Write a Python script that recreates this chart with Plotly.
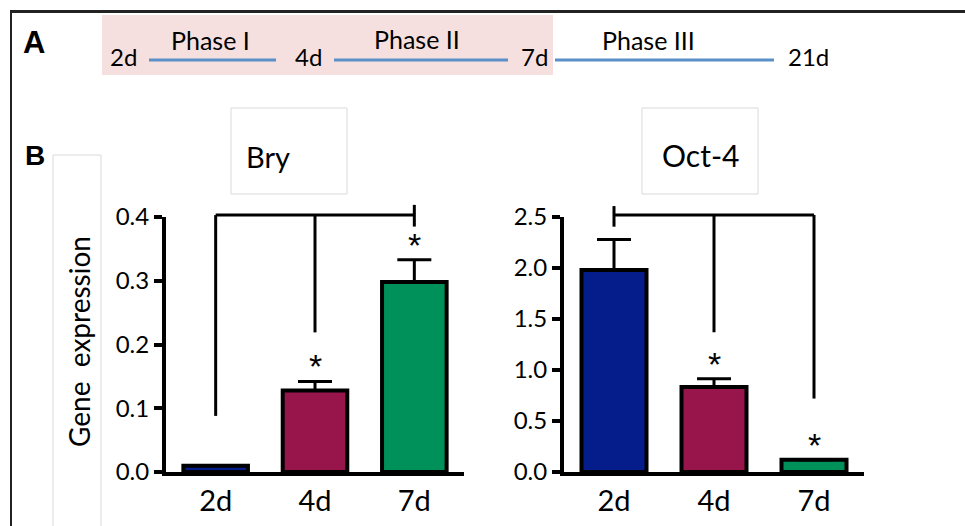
import plotly.graph_objects as go

# ---------------- data ----------------
days = ["2d", "4d", "7d"]
bry_values = [0.01, 0.128, 0.298]
bry_errors = [0.0, 0.014, 0.035]
oct_values = [1.98, 0.833, 0.12]
oct_errors = [0.30, 0.08, 0.0]
bar_colors = ["#041d8b", "#97154b", "#00905a"]

# significance brackets (data units): top line level, drop ends per category
bry_bracket_level = 0.403
bry_bracket_drops = [0.088, 0.219, None]       # None = end cap instead of drop
bry_bracket_cap = [0.385, 0.419]               # cap on 7d end
bry_stars = ["", "*", "*"]
oct_bracket_level = 2.52
oct_bracket_drops = [None, 1.37, 0.72]
oct_bracket_cap = [2.405, 2.607]               # cap on 2d end
oct_stars = ["", "*", "*"]

timeline_days = ["2d", "4d", "7d", "21d"]
phase_names = ["Phase I", "Phase II", "Phase III"]

W, H = 965, 526
FONT = "Lato"


def px(x):
    return x / W


def py(y):
    return 1 - y / H


fig = go.Figure()

# ------------- panel geometry (pixels) -------------
y_bottom, y_top, y_ext = 472, 217, 190
panels = [
    dict(name="Bry", xa="x", ya="y", yb="y3", xdom=(166, 464), ymax=0.4, dtick=0.1,
         vals=bry_values, errs=bry_errors, level=bry_bracket_level,
         drops=bry_bracket_drops, cap=bry_bracket_cap, cap_idx=2, stars=bry_stars),
    dict(name="Oct-4", xa="x2", ya="y2", yb="y4", xdom=(564, 864), ymax=2.5, dtick=0.5,
         vals=oct_values, errs=oct_errors, level=oct_bracket_level,
         drops=oct_bracket_drops, cap=oct_bracket_cap, cap_idx=0, stars=oct_stars),
]

layout_axes = {}
annotations = []
for i, p in enumerate(panels):
    fig.add_trace(go.Bar(
        x=days, y=p["vals"], xaxis=p["xa"], yaxis=p["ya"],
        marker=dict(color=bar_colors, line=dict(color="black", width=4)),
        width=0.65,
        error_y=dict(type="data", array=p["errs"], arrayminus=[0, 0, 0], symmetric=False,
                     thickness=3, width=17, color="black"),
        showlegend=False, hoverinfo="skip",
    ))
    # bracket lines on an extended invisible axis with the same scale
    bx, by = [], []
    bx += [days[0], days[-1], None]
    by += [p["level"], p["level"], None]
    for d, drop in zip(days, p["drops"]):
        if drop is not None:
            bx += [d, d, None]
            by += [p["level"], drop, None]
    bx += [days[p["cap_idx"]], days[p["cap_idx"]]]
    by += [p["cap"][0], p["cap"][1]]
    fig.add_trace(go.Scatter(
        x=bx, y=by, xaxis=p["xa"], yaxis=p["yb"], mode="lines",
        line=dict(color="black", width=3), showlegend=False, hoverinfo="skip",
    ))
    # stars
    for d, v, e, s in zip(days, p["vals"], p["errs"], p["stars"]):
        if s:
            annotations.append(dict(
                x=d, y=v + e, xref=p["xa"], yref=p["ya"], text=s, showarrow=False,
                xanchor="center", yanchor="middle", yshift=15,
                font=dict(family="Liberation Sans", size=34, color="black")))

    ext_range = p["ymax"] * (y_bottom - y_ext) / (y_bottom - y_top)
    xkey = "xaxis" if i == 0 else "xaxis2"
    ykey = "yaxis" if i == 0 else "yaxis2"
    ybkey = "yaxis3" if i == 0 else "yaxis4"
    layout_axes[xkey] = dict(
        domain=[px(p["xdom"][0]), px(p["xdom"][1])], anchor=p["ya"], type="category",
        range=[-0.5, 2.5], showline=True, linewidth=4, linecolor="black", ticks="",
        showgrid=False, zeroline=False, fixedrange=True, automargin=False,
        tickfont=dict(family=FONT, size=29, color="black"))
    layout_axes[ykey] = dict(
        domain=[py(y_bottom), py(y_top)], anchor=p["xa"], range=[0, p["ymax"]],
        tick0=0, dtick=p["dtick"], tickformat=".1f", showline=True, linewidth=4,
        linecolor="black", ticks="outside", ticklen=8, tickwidth=4, tickcolor="black",
        showgrid=False, zeroline=False, fixedrange=True, automargin=False,
        tickfont=dict(family=FONT, size=24, color="black"))
    layout_axes[ybkey] = dict(
        domain=[py(y_bottom), py(y_ext)], anchor=p["xa"], range=[0, ext_range],
        visible=False, fixedrange=True, automargin=False)

# ------------- shapes (paper) -------------
shapes = []
# pink highlight of phases I-II
shapes.append(dict(type="rect", xref="paper", yref="paper", x0=px(102), x1=px(553),
                   y0=py(75), y1=py(15), fillcolor="#f6e0df", line=dict(width=0), layer="below"))
# frame
shapes.append(dict(type="line", xref="paper", yref="paper", x0=px(10), x1=px(966),
                   y0=py(11.5), y1=py(11.5), line=dict(color="#222222", width=3)))
shapes.append(dict(type="line", xref="paper", yref="paper", x0=px(11), x1=px(11),
                   y0=py(10), y1=py(530), line=dict(color="#222222", width=2)))
# phase lines
for x0, x1 in [(149, 276), (334, 508), (555, 774)]:
    shapes.append(dict(type="line", xref="paper", yref="paper", x0=px(x0), x1=px(x1),
                       y0=py(60), y1=py(60), line=dict(color="#5b8fc7", width=3)))
# title boxes and y-label box
for x0, x1, y0, y1 in [(231, 347, 108, 194), (642, 758, 108, 194), (53, 101, 155, 530)]:
    shapes.append(dict(type="rect", xref="paper", yref="paper", x0=px(x0), x1=px(x1),
                       y0=py(y1), y1=py(y0), line=dict(color="#d9d9d9", width=1),
                       fillcolor="rgba(0,0,0,0)"))

# ------------- text -------------
def ptext(text, x, y, size, family=FONT, bold=False, angle=0):
    t = f"<b>{text}</b>" if bold else text
    annotations.append(dict(text=t, x=px(x), y=py(y), xref="paper", yref="paper",
                            showarrow=False, xanchor="center", yanchor="middle",
                            textangle=angle, font=dict(family=family, size=size, color="black")))

ptext("A", 34, 43, 31, family="Liberation Sans", bold=True)
ptext("B", 34.5, 155, 28, family="Liberation Sans", bold=True)
for d, x in zip(timeline_days, [123.5, 308.5, 534.5, 808]):
    ptext(d, x, 56, 24)
for ph, x, y in zip(phase_names, [210, 416.5, 648], [40, 39, 40]):
    ptext(ph, x, y, 25)
ptext(panels[0]["name"], 268, 156, 29)
ptext(panels[1]["name"], 700, 155, 30)
ptext("Gene&nbsp;&nbsp;expression", 79, 342, 28, angle=-90)

fig.update_layout(
    width=W, height=H, margin=dict(l=0, r=0, t=0, b=0, autoexpand=False),
    paper_bgcolor="white", plot_bgcolor="rgba(0,0,0,0)",
    shapes=shapes, annotations=annotations, bargap=0.35, showlegend=False,
    **layout_axes,
)

fig.write_html(
    "out.html",
    config={"displayModeBar": False, "staticPlot": True},
    post_script="document.body.style.margin='0';document.body.style.overflow='hidden';",
)
